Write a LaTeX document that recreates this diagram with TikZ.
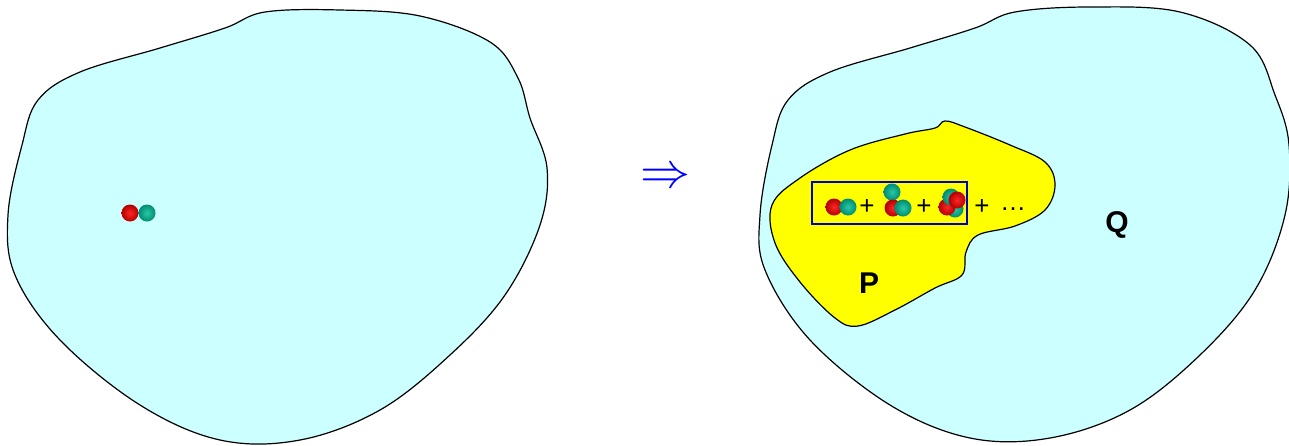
\documentclass[tikz,border=0pt]{standalone}
\usepackage{fontspec}
\setmainfont{Liberation Sans}
\begin{document}
\begin{tikzpicture}[x=1pt,y=-1pt,
  blob/.style={draw=black,line width=1.2pt,fill=cyanfill},
  redball/.style={circle,inner sep=0pt,minimum size=17pt,shading=radial,inner color=red!85!white,outer color=red!70!black},
  tealball/.style={circle,inner sep=0pt,minimum size=17pt,shading=radial,inner color=teall,outer color=tealc},
  lbl/.style={font=\bfseries\fontsize{30}{34}\selectfont},
  op/.style={font=\fontsize{26}{30}\selectfont,inner sep=0pt}]
\definecolor{cyanfill}{RGB}{204,255,255}
\definecolor{tealc}{RGB}{0,140,115}
\definecolor{teall}{RGB}{40,200,165}
\definecolor{yel}{RGB}{255,255,0}
\useasboundingbox (0,0) rectangle (1289,445);
% left blob
\draw[blob] plot[smooth cycle,tension=0.6] coordinates {(38,100) (80,72) (160,48) (225,28) (265,12) (340,10) (420,16) (490,42) (518,78) (530,118) (547,168) (540,225) (505,295) (450,355) (380,410) (300,440) (220,440) (140,405) (60,340) (15,275) (8,215) (22,145)};
% right blob
\draw[blob] plot[smooth cycle,tension=0.6] coordinates {(788,100) (830,72) (910,48) (975,28) (1015,12) (1090,7) (1180,12) (1250,45) (1275,95) (1289,145) (1285,215) (1255,290) (1200,355) (1130,410) (1050,438) (970,438) (890,405) (810,340) (765,270) (760,215) (772,145)};
% yellow blob
\draw[line width=1.2pt,fill=yel] plot[smooth cycle,tension=0.6] coordinates {(772,205) (800,178) (850,150) (905,134) (935,128) (945,121) (965,127) (1010,145) (1045,162) (1055,185) (1045,210) (1015,226) (978,235) (966,252) (962,275) (935,288) (895,310) (858,326) (835,318) (800,282) (775,243)};
% left atoms
\node[redball] (l1) at (130,213) {};
\node[tealball] (l2) at (147,213) {};
% arrow
\node[text=blue,inner sep=0pt] (arr) at (665,178) {\scalebox{5}{$\Rightarrow$}};
% box
\node[draw=blue!80!black,line width=1.5pt,minimum width=155pt,minimum height=42pt,inner sep=0pt] (box) at (889.5,203) {};
\node[redball] (a1) at (834,207) {};
\node[tealball] (a2) at (848,207) {};
\node[op] (p1) at (867,207) {+};
\node[tealball] (b1) at (892,192) {};
\node[redball] (b2) at (893,208) {};
\node[tealball] (b3) at (903,208) {};
\node[op] (p2) at (924,207) {+};
\node[tealball] (c1) at (955,209) {};
\node[redball] (c2) at (947,207) {};
\node[tealball] (c3) at (951,197) {};
\node[redball] (c4) at (957,200) {};
\node[op] (p3) at (982,207) {+};
\node[op] (dots) at (1013,209) {\dots};
% labels
\node[lbl] (P) at (869,283) {P};
\node[lbl] (Q) at (1117,225) {Q};
\end{tikzpicture}
\end{document}
